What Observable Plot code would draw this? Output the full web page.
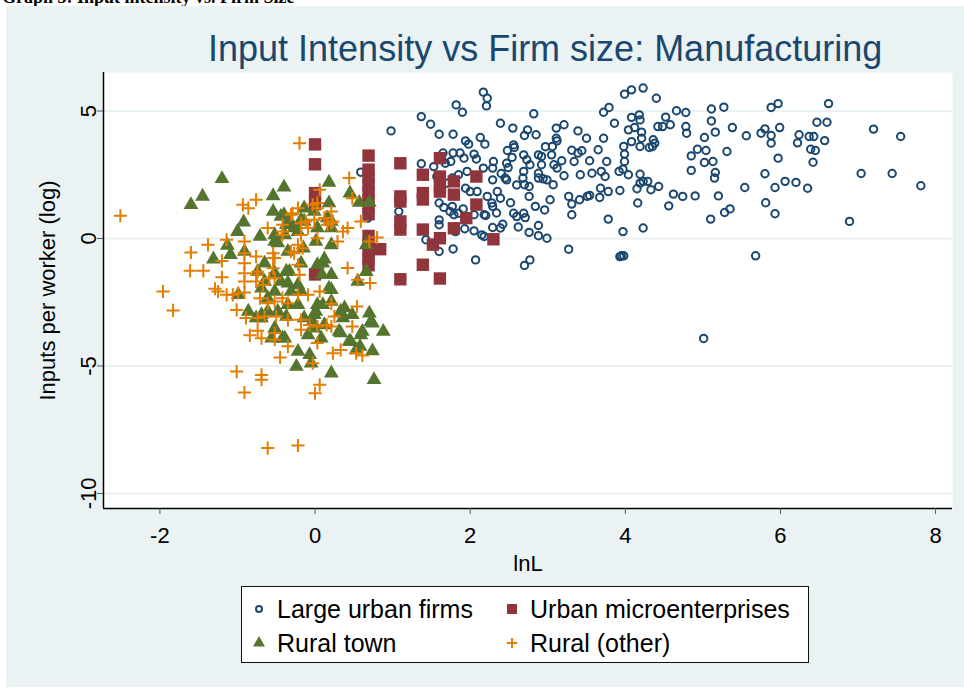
<!DOCTYPE html>
<html><head><meta charset="utf-8">
<script src="https://cdn.jsdelivr.net/npm/d3@7"></script>
<script src="https://cdn.jsdelivr.net/npm/@observablehq/plot@0.6"></script>
<style>
body{margin:0;background:#fff;}
#root{position:relative;width:964px;height:689px;overflow:hidden;background:#fff;font-family:"Liberation Sans",Arial,sans-serif;}
#cap{position:absolute;left:2px;top:-12px;font:bold 18px/18px "Liberation Serif","Times New Roman",serif;color:#000;white-space:nowrap;}
#panel{position:absolute;left:6px;top:6px;width:958px;height:681px;background:#eaf2f3;}
#chart{position:absolute;left:0;top:0;}
#title{position:absolute;left:208px;top:31px;font-size:36px;line-height:36px;color:#1a476f;white-space:nowrap;}
#legend{position:absolute;left:241px;top:586px;width:566px;height:75px;background:#fff;border:1px solid #111;}
.item{position:absolute;height:28px;display:flex;align-items:center;font-size:25px;color:#000;white-space:nowrap;}
.item svg{margin-right:9px;}
</style></head><body>
<div id="root">
 <div id="cap">Graph 3: Input intensity vs. Firm Size</div>
 <div id="panel"></div>
 <div id="chart"></div>
 <div id="title">Input Intensity vs Firm size: Manufacturing</div>
 <div id="legend"></div>
</div>
<script>
const titleText = "Input Intensity vs Firm size: Manufacturing";
const xLabel = "lnL";
const yLabel = "Inputs per worker (log)";
const xTicks = [-2, 0, 2, 4, 6, 8];
const yTicks = [5, 0, -5, -10];
const seriesNames = ["Large urban firms", "Urban microenterprises", "Rural town", "Rural (other)"];

// [lnL, log inputs per worker]
const largeUrban = [
[2.17,5.74],[2.22,5.50],[2.21,5.20],[2.82,4.89],[2.39,4.52],[2.55,4.33],[2.74,4.26],[2.70,4.04],[2.85,4.07],[3.11,4.33],
[3.21,4.46],[3.39,4.22],[3.50,3.93],[3.11,3.93],[3.06,3.61],[3.12,3.83],[2.56,3.67],[2.57,3.57],[3.31,3.46],[3.44,3.44],
[3.39,3.35],[3.34,3.02],[3.65,3.48],[3.54,3.05],[3.72,3.93],[3.76,3.02],[3.69,2.63],[3.74,2.43],[3.57,2.56],[3.42,2.50],
[3.21,2.46],[3.12,2.76],[3.08,2.89],[3.05,3.28],[2.92,3.22],[2.88,3.28],[2.92,2.89],[2.88,2.56],[2.94,2.34],[2.77,2.89],
[2.69,3.28],[2.73,3.09],[2.54,3.18],[2.47,2.95],[2.49,2.78],[2.30,3.02],[2.29,2.76],[2.17,2.76],[2.29,2.30],[2.45,2.37],
[2.47,2.30],[2.69,2.63],[2.68,2.37],[2.70,2.11],[2.76,2.04],[3.07,2.11],[2.88,2.37],[2.99,2.30],[3.03,1.52],[2.76,1.65],
[2.84,1.26],[2.96,1.12],[2.56,0.99],[2.60,0.86],[2.69,0.99],[2.71,0.82],[2.39,1.58],[2.22,1.65],[2.35,1.84],[2.28,1.39],
[2.29,1.26],[2.18,0.93],[2.29,0.43],[2.42,0.56],[2.39,0.41],[2.18,0.08],[2.76,0.24],[2.88,0.51],[2.88,0.11],[2.99,0.01],
[3.27,-0.42],[3.31,0.93],[3.27,1.65],[3.31,1.35],[3.41,1.52],[3.51,1.65],[3.54,1.69],[3.67,1.61],[3.68,1.97],[3.78,1.84],
[3.93,1.88],[3.78,0.76],[3.97,0.27],[4.23,0.41],[4.16,1.39],[4.15,1.95],[4.19,2.17],[4.23,2.24],[4.29,2.24],[4.33,1.91],
[4.43,2.04],[4.19,2.52],[4.04,2.50],[3.92,2.63],[3.97,2.72],[3.99,3.02],[3.99,3.31],[3.98,3.61],[4.08,3.80],[4.19,3.61],
[4.21,3.93],[4.21,4.17],[4.18,4.85],[4.19,4.65],[4.08,4.75],[4.04,4.26],[4.12,4.35],[3.86,4.52],[3.72,4.95],[3.79,5.14],
[3.99,5.66],[4.08,5.83],[4.23,5.90],[4.40,5.50],[4.31,3.57],[4.36,3.87],[4.38,3.74],[4.35,3.61],[4.42,4.39],[4.48,4.39],
[4.58,4.46],[4.52,4.76],[4.66,5.01],[4.78,4.94],[4.78,4.39],[4.79,4.13],[5.02,3.96],[4.93,3.50],[5.04,3.45],[4.85,3.24],
[5.02,2.98],[5.13,3.02],[4.85,2.67],[5.16,2.59],[5.15,2.37],[5.31,3.41],[5.16,4.17],[5.11,4.61],[5.11,5.08],[5.27,5.15],
[5.38,4.35],[5.56,4.03],[5.75,4.13],[5.80,4.30],[5.88,4.04],[5.88,3.74],[5.88,5.14],[5.97,5.29],[5.99,4.35],[5.97,3.15],
[5.80,2.54],[5.93,2.00],[6.06,2.24],[6.20,2.20],[6.35,1.97],[5.54,2.00],[5.20,1.67],[4.90,1.67],[4.74,1.65],[4.62,1.74],
[4.56,1.28],[5.10,0.76],[5.28,1.02],[5.35,1.16],[5.81,1.40],[5.93,0.97],[3.93,-0.71],[3.95,-0.68],[3.98,-0.68],[5.68,-0.68],
[5.01,-3.92],[6.24,4.07],[6.22,3.75],[6.37,4.00],[6.43,4.00],[6.57,3.84],[6.39,3.50],[6.45,3.45],[6.42,2.99],[6.47,4.56],
[6.60,4.56],[6.62,5.29],[6.89,0.67],[7.04,2.55],[7.20,4.29],[7.44,2.55],[7.55,4.00],[7.81,2.07],[2.77,-0.84],[2.70,-1.06],
[0.98,4.22],[1.37,4.78],[1.49,4.48],[1.60,4.09],[1.78,4.09],[1.82,5.24],[1.90,4.95],[1.94,3.83],[1.98,3.70],[2.13,3.96],
[2.19,3.70],[1.37,2.93],[1.53,2.82],[1.65,3.35],[1.78,3.35],[1.87,3.35],[1.92,3.15],[1.75,3.02],[1.68,2.95],[2.05,3.31],
[2.08,3.12],[1.96,2.63],[1.57,2.43],[1.62,2.10],[1.70,2.17],[1.77,2.37],[1.85,2.50],[1.94,1.97],[2.00,1.84],[2.09,1.84],
[1.60,1.39],[1.66,1.22],[1.74,1.06],[1.77,1.26],[1.79,0.93],[1.85,0.99],[1.91,1.16],[2.05,0.93],[2.20,0.90],[1.60,0.54],
[1.81,0.27],[1.93,0.38],[2.05,0.30],[2.15,0.14],[1.43,-0.05],[1.60,-0.51],[1.78,-0.41],[2.07,-0.84],[1.08,1.06],[0.59,2.60],
[0.68,0.80],[1.60,0.73],[2.40,2.55],[2.60,2.10],[2.52,1.40],[2.34,1.00],[2.62,0.45],[2.48,3.45],[2.97,3.60],[3.18,3.05]
];

const urbanMicro = [
[0,3.69],[0,2.91],[0,1.78],[0,1.35],[0,-1.41],
[0.69,3.25],[0.69,2.70],[0.69,2.40],[0.69,2.10],[0.69,1.80],[0.69,1.50],[0.69,1.20],[0.69,0.95],[0.69,0.10],[0.69,-0.20],[0.69,-0.50],[0.69,-0.80],[0.69,-1.05],
[0.84,-0.42],
[1.10,2.95],[1.10,1.65],[1.10,1.45],[1.10,0.67],[1.10,0.35],[1.10,-1.60],
[1.39,2.50],[1.39,1.78],[1.39,1.53],[1.39,0.35],[1.39,-1.03],
[1.61,3.15],[1.61,2.43],[1.61,2.04],[1.61,1.84],[1.61,0.01],[1.61,-1.57],[1.52,-0.24],
[1.79,2.24],[1.79,1.72],[1.79,0.40],[1.95,0.80],[2.08,2.43],[2.08,1.33],[2.30,-0.03]
];

const ruralTown = [
[-1.20,2.34],[-1.45,1.65],[-1.60,1.32],[-0.40,2.01],[-0.54,1.67],[-0.92,0.64],[-1.00,0.27],[-1.13,-0.27],[-1.09,-0.64],[-1.31,-0.81],
[-0.99,-2.21],[-0.71,0.08],[-0.54,1.06],[-0.44,0.86],[-0.37,0.54],[-0.52,0.14],[-0.48,-0.18],[-0.39,0.14],[-0.27,0.41],[-0.18,0.73],
[-0.14,1.19],[-0.35,-0.51],[-0.18,-0.97],[-0.15,-0.38],[-0.01,1.06],[0.03,0.41],[0.01,-0.12],[0.18,2.20],[0.18,1.39],[0.16,0.80],
[0.21,0.41],[0.21,-0.25],[0.12,-0.81],[0.21,-1.42],[0.09,-1.42],[0.45,1.78],[0.57,1.41],[0.70,1.41],[0.66,-0.25],[0.66,-1.30],
[0.55,-1.69],[0.21,-2.01],[-0.22,-1.82],[-0.33,-1.30],[-0.44,-1.69],[-0.52,-1.36],[-0.65,-0.97],[-0.74,-1.30],[-0.69,-1.95],[-0.61,-2.34],
[-0.76,-3.12],[-0.69,-3.12],[-0.52,-3.52],[-0.42,-3.91],[-0.56,-3.91],[-0.22,-4.43],[-0.07,-4.56],[-0.24,-5.02],[-0.05,-4.89],[0.21,-5.28],
[0.76,-5.54],[0.74,-4.41],[0.58,-4.24],[0.44,-4.04],[0.88,-3.65],[0.74,-3.32],[0.70,-2.93],[0.59,-3.78],[0.48,-2.99],[0.38,-2.73],
[0.36,-3.12],[0.31,-3.65],[0.21,-2.47],[0.18,-1.95],[0.03,-2.60],[-0.01,-2.99],[-0.01,-3.52],[-0.09,-3.78],[-0.14,-3.12],[-0.22,-2.60],
[-0.35,-2.60],[-0.48,-2.86],[-0.61,-2.86],[-0.18,-2.08],[-0.31,-2.08],[-0.86,-2.86],[0.12,-3.39],[0.08,-3.91],
[-0.40,0.93],[-0.33,0.67],[0.21,0.67],[-0.14,0.67],[-0.91,-0.51],[-0.52,-0.12],[-0.22,0.27],[-0.37,-1.29],
[-0.35,-1.75],[0.10,-0.97],[0.10,-2.60],[0.01,-2.86],[-0.03,-3.26],[0.33,-2.86],[0.61,-3.65],[0.72,-3.26],[0.53,-4.37],[0.33,-3.71],
[0.46,-4.04],[-0.39,-3.91],[-0.69,-2.99],[-0.52,-2.08],[0.03,-1.03],[-0.65,-1.69],[-0.37,-3.06]
];

const ruralOther = [
[-2.51,0.89],[-0.20,3.74],[-1.96,-2.08],[-1.83,-2.82],[-1.01,-5.22],[-0.91,-6.04],[-0.69,-5.35],[-0.69,-5.54],[-0.61,-8.22],[-0.22,-8.12],
[0.06,-5.74],[0.00,-6.07],[-1.60,-0.55],[-1.61,-1.27],[-1.44,-1.27],[-1.38,-0.25],[-1.20,-0.88],[-1.20,-1.52],[-1.29,-1.97],[-1.25,-2.08],
[-1.14,-2.21],[-1.06,-2.21],[-1.01,-2.80],[-0.91,-2.12],[-0.91,-1.69],[-0.91,-1.36],[-0.91,-0.97],[-0.91,-0.58],[-0.91,-0.12],[-1.14,-0.05],
[-0.93,1.32],[-0.86,1.19],[-0.76,1.52],[-0.61,0.41],[-0.76,-0.71],[-0.74,-1.30],[-0.54,-0.58],[-0.52,-1.56],[-0.42,0.54],[-0.42,0.14],
[-0.31,0.93],[-0.22,1.19],[-0.27,-0.58],[-0.22,-1.03],[-0.18,0.14],[-0.16,-0.38],[-0.12,0.67],[-0.01,0.73],[0.06,1.91],[0.03,1.19],
[0.03,0.01],[0.21,1.06],[0.23,0.67],[0.29,-0.12],[0.44,2.37],[0.48,1.58],[0.59,0.67],[0.42,0.41],[0.36,0.27],[0.70,-0.12],
[0.80,0.04],[0.42,-1.16],[0.55,-1.62],[0.71,-1.75],[0.06,-2.08],[0.21,-2.56],[0.25,-3.06],[0.15,-3.39],[0.21,-3.45],[0.03,-3.45],
[0.03,-4.10],[-0.03,-4.89],[0.23,-4.50],[0.33,-4.37],[0.53,-4.50],[0.61,-4.59],[0.48,-3.45],[0.54,-2.67],[-0.18,-3.19],[-0.18,-3.58],
[-0.35,-4.23],[-0.45,-4.67],[-0.52,-3.97],[-0.52,-3.71],[-0.74,-3.62],[-0.84,-3.80],[-0.69,-3.91],[-0.89,-3.12],[-0.74,-3.12],[-0.65,-3.06],
[-0.50,-3.06],[-0.35,-3.19],[-0.71,-2.34],[-0.61,-2.54],[-0.52,-2.47],[-0.42,-2.34],[-0.35,-2.54],[-0.22,-2.21],[-0.09,-2.21],[-0.07,-3.39],
[-0.67,-1.82],[-0.59,-1.56],[-0.54,-1.17],[-0.52,-0.77],[-0.76,-1.69],[-0.99,-2.14],[-0.20,-1.42],[-0.09,0.41],[-0.03,1.32],[0.12,0.80],
[0.16,0.54],[-0.22,-0.25],[-0.42,0.27],[-0.29,0.99],[-0.18,0.60],[0.03,1.39],[0.21,0.60],[-0.31,-0.51],[-0.54,-0.77],[-0.75,-1.42]
];

const colors = ["#1a476f", "#90353b", "#55752f", "#e37e00"];

const xDomain = [-2.727, 8.218];
const yDomain = [-10.59, 6.51];
const fmt = d => String(d);

const chart = Plot.plot({
  width: 964,
  height: 689,
  marginLeft: 103,
  marginRight: 12,
  marginTop: 72,
  marginBottom: 181,
  style: {background: "none", overflow: "visible", fontFamily: "'Liberation Sans', Arial, sans-serif", color: "#000"},
  x: {domain: xDomain, label: null},
  y: {domain: yDomain, label: null},
  marks: [
    Plot.frame({fill: "#fff", stroke: null}),
    Plot.gridY(yTicks, {stroke: "#eaf2f3", strokeOpacity: 1, strokeWidth: 2}),
    Plot.dot(largeUrban, {x: d => d[0], y: d => d[1], r: 3.7, symbol: "circle", fill: "none", stroke: colors[0], strokeWidth: 2}),
    Plot.dot(urbanMicro, {x: d => d[0], y: d => d[1], r: 7, symbol: "square", fill: colors[1], stroke: null}),
    Plot.dot(ruralTown, {x: d => d[0], y: d => d[1], r: 5.5, symbol: "triangle", fill: colors[2], stroke: null}),
    Plot.dot(ruralOther, {x: d => d[0], y: d => d[1], r: 4.3, symbol: "plus", fill: "none", stroke: colors[3], strokeWidth: 2}),
    Plot.ruleX([xDomain[0]], {stroke: "#000", strokeWidth: 1.5}),
    Plot.ruleY([yDomain[0]], {stroke: "#000", strokeWidth: 1.5}),
    Plot.axisX(xTicks, {tickSize: 6, tickPadding: 13, fontSize: 22, tickFormat: fmt, stroke: "#555", fill: "#000"}),
    Plot.axisY(yTicks, {tickSize: 6, tickPadding: 2, tickRotate: -90, fontSize: 22, tickFormat: fmt, stroke: "#555", fill: "#000"}),
    Plot.text([yLabel], {frameAnchor: "left", textAnchor: "middle", lineAnchor: "middle", dx: -56, rotate: -90, fontSize: 22, fill: "#000"}),
    Plot.text([xLabel], {frameAnchor: "bottom", textAnchor: "middle", lineAnchor: "middle", dy: 55, fontSize: 22, fill: "#000"})
  ]
});
document.getElementById("chart").appendChild(chart);

// legend
const legend = document.getElementById("legend");
const legendSpec = [
  {type: d3.symbolCircle, size: 9, fill: "none", stroke: colors[0], sw: 2, left: 8, top: 8},
  {type: d3.symbolSquare, size: 100, fill: colors[1], stroke: "none", sw: 0, left: 261, top: 8},
  {type: d3.symbolTriangle, size: 62, fill: colors[2], stroke: "none", sw: 0, left: 8, top: 42},
  {type: d3.symbolPlus, size: 36, fill: "none", stroke: colors[3], sw: 2, left: 261, top: 42}
];
seriesNames.forEach((name, i) => {
  const s = legendSpec[i];
  const item = document.createElement("div");
  item.className = "item";
  item.style.left = s.left + "px";
  item.style.top = s.top + "px";
  const svg = d3.create("svg").attr("width", 18).attr("height", 18);
  svg.append("path")
    .attr("transform", "translate(9,9)")
    .attr("d", d3.symbol(s.type, s.type === d3.symbolCircle ? Math.PI * s.size : s.size)())
    .attr("fill", s.fill).attr("stroke", s.stroke).attr("stroke-width", s.sw);
  item.appendChild(svg.node());
  const span = document.createElement("span");
  span.textContent = name;
  item.appendChild(span);
  legend.appendChild(item);
});
document.getElementById("title").textContent = titleText;
</script>
</body></html>
